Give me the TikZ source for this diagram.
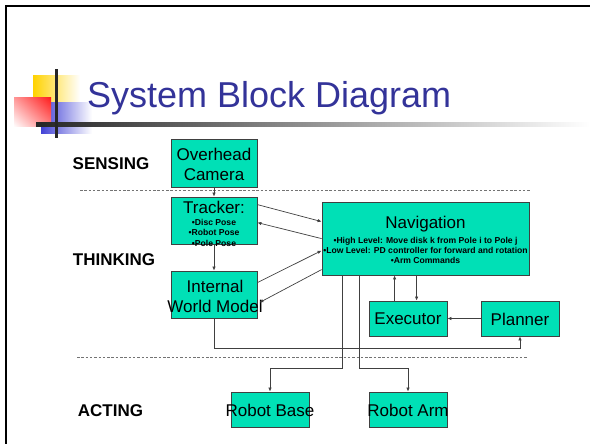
\documentclass[tikz,border=0pt]{standalone}
\usepackage{fontspec}
\setmainfont{Liberation Sans}
\usetikzlibrary{arrows.meta,calc,shadings}
\definecolor{boxgreen}{HTML}{00E0B6}
\definecolor{titleblue}{HTML}{333399}
\definecolor{wire}{HTML}{404040}
\definecolor{decoyellow}{HTML}{FFD200}
\definecolor{decoblue}{HTML}{4242D6}
\definecolor{decored}{HTML}{FF1E1E}
\begin{document}
\begin{tikzpicture}[x=1pt,y=-1pt,
  box/.style n args={2}{draw=wire,line width=0.8pt,fill=boxgreen,inner sep=0pt,
    minimum width=#1,minimum height=#2},
  lbl/.style={font=\fontsize{17}{20}\selectfont,align=center,inner sep=0pt},
  small/.style={font=\bfseries\fontsize{8.6}{10}\selectfont,align=center,inner sep=0pt},
  layer/.style={font=\bfseries\fontsize{17}{20}\selectfont,inner sep=0pt},
  arr/.style={draw=wire,line width=0.7pt,-{Latex[length=4pt,width=3.4pt]}},
  sep/.style={draw=black!55,line width=0.8pt,dash pattern=on 2.5pt off 1.8pt}]
\useasboundingbox (0,0) rectangle (590,444);

% slide frame
\draw[line width=2.5pt] (592,6) -- (6,6) -- (6,446);

% title ornament
\shade[left color=decoyellow,middle color=decoyellow,right color=white] (33,76) rectangle (80,103);
\shade[left color=decoblue,middle color=decoblue,right color=white] (41,103) rectangle (92,134);
\shade[upper right=decored,upper left=decored!45,lower right=decored!55,lower left=white] (14,98) rectangle (51,127);
\shade[left color=black!85,right color=white] (36,122.5) rectangle (590,126.5);
\fill[black!85] (54.5,69) rectangle (57.5,138);

\node[anchor=base west,font=\fontsize{36}{40}\selectfont,text=titleblue,inner sep=0pt]
  (title) at (87,108) {System Block Diagram};

% layer labels and separators
\node[layer] (sensing) at (111,163.5) {SENSING};
\node[layer] (thinking) at (114,260) {THINKING};
\node[layer] (acting) at (110.5,411) {ACTING};
\draw[sep] (80,190.5) -- (530,190.5);
\draw[sep] (77,357) -- (527,357);

% blocks
\node[box={86pt}{48pt}] (cam) at (214,163) {};
\node[box={86pt}{47pt}] (trk) at (214,220.5) {};
\node[box={86pt}{47pt}] (iwm) at (214,294.5) {};
\node[box={207pt}{73pt}] (nav) at (425.5,238.5) {};
\node[box={78pt}{35pt}] (exe) at (408,318.5) {};
\node[box={78pt}{35pt}] (pln) at (520,318.5) {};
\node[box={78pt}{35pt}] (rb) at (270,409.5) {};
\node[box={78pt}{35pt}] (ra) at (408,409.5) {};

% block texts
\node[lbl] (camtxt) at (214,164) {Overhead\\Camera};
\node[lbl] (trktxt) at (214,207.5) {Tracker:};
\node[small] (trkpts) at (214,232.5) {•Disc Pose\\[0.5pt]•Robot Pose\\[0.5pt]•Pole Pose};
\node[lbl] (iwmtxt) at (215,296.5) {Internal\\World Model};
\node[lbl] (navtxt) at (425.5,224.5) {Navigation};
\node[small] (navpts) at (425.5,250) {•High Level: Move disk k from Pole i to Pole j\\•Low Level: PD controller for forward and rotation\\•Arm Commands};
\node[lbl] (exetxt) at (408,319) {Executor};
\node[lbl] (plntxt) at (520,319) {Planner};
\node[lbl] (rbtxt) at (270,410) {Robot Base};
\node[lbl] (ratxt) at (408,410) {Robot Arm};

% connectors
\draw[arr] (cam.south) -- (trk.north);
\draw[arr] (trk.south) -- (iwm.north);
\draw[arr] ($(trk.north east)+(0,8)$) -- ($(nav.north west)+(0,20)$);
\draw[arr] ($(nav.north west)+(0,37)$) -- ($(trk.north east)+(0,26)$);
\draw[arr] ($(iwm.north east)+(0,12)$) -- ($(nav.north west)+(0,49)$);
\draw[arr] ($(nav.north west)+(0,68)$) -- ($(iwm.north east)+(2,32)$);
\coordinate (e1) at ($(exe.north west)+(26,0)$);
\coordinate (e2) at ($(exe.north west)+(48,0)$);
\draw[arr] (e1) -- (e1 |- nav.south);
\draw[arr] (e2 |- nav.south) -- (e2);
\draw[arr] (pln.west) -- (exe.east);
\draw[arr] (iwm.south) -- ++(0,30) -| (pln.south);
\coordinate (n1) at ($(nav.south west)+(21,0)$);
\coordinate (n2) at ($(nav.south west)+(38,0)$);
\draw[arr] (n1) -- ++(0,93) -| (rb.north);
\draw[arr] (n2) -- ++(0,93) -| (ra.north);
\end{tikzpicture}
\end{document}
